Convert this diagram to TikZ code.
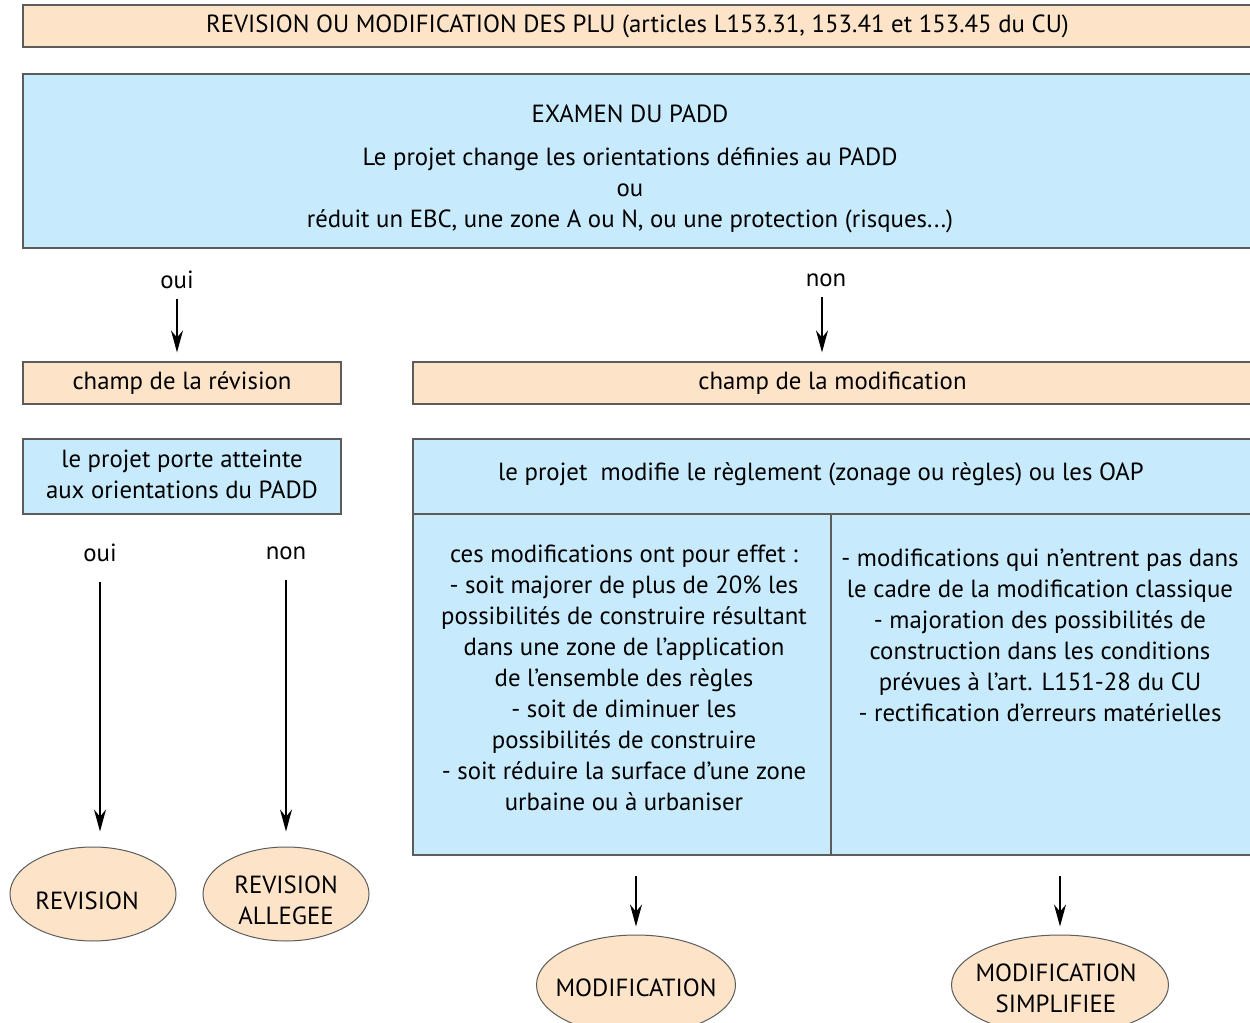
\documentclass[tikz,border=0pt]{standalone}
\usepackage{fontspec}
\setmainfont{PT Sans}
\usetikzlibrary{arrows.meta,shapes.geometric}

\definecolor{peach}{HTML}{FDE3C8}
\definecolor{skyblue}{HTML}{C7EBFD}
\definecolor{edgegray}{HTML}{5C5C5C}

\tikzset{
  peachbox/.style={draw=edgegray, fill=peach, line width=0.6pt, inner sep=0pt},
  bluebox/.style={draw=edgegray, fill=skyblue, line width=0.6pt, inner sep=0pt},
  endnode/.style={ellipse, draw=edgegray, fill=peach, line width=0.5pt, inner sep=0pt},
  txt/.style={align=center, inner sep=1pt},
  flow/.style={-{Stealth[length=11pt,width=6pt]}, line width=0.9pt},
}

\begin{document}
\begin{tikzpicture}[x=0.5pt, y=-0.5pt, font=\fontsize{12.4}{15.5}\selectfont]
    % Fix the size of the page
    \useasboundingbox (0,0) rectangle (1250,1023);

    % Title bar
    \node[peachbox, minimum width=614.5pt, minimum height=21pt] (title) at (637.5,26)
        {REVISION OU MODIFICATION DES PLU (articles L153.31, 153.41 et 153.45 du CU)};

    % Examen du PADD
    \node[bluebox, minimum width=614.5pt, minimum height=87pt] (padd) at (637.5,161) {};
    \node[txt] (paddtxt) at (630,169) {EXAMEN DU PADD\\[6pt]
        Le projet change les orientations définies au PADD\\
        ou\\
        réduit un EBC, une zone A ou N, ou une protection (risques...)};

    % First answer
    \node[txt] (oui1) at (177,280) {oui};
    \node[txt] (non1) at (826,280) {non};

    % Champ de la revision / modification
    \node[peachbox, minimum width=159pt, minimum height=21pt] (champrev) at (182,383) {champ de la révision};
    \node[peachbox, minimum width=419.5pt, minimum height=21pt] (champmod) at (832.5,383) {champ de la modification};

    \draw[flow, shorten <=4pt, shorten >=4.5pt] (oui1.south) -- (oui1.south |- champrev.north);
    \draw[flow, shorten <=4pt, shorten >=4.5pt] ([xshift=-2pt]non1.south) -- ([xshift=-2pt]non1.south |- champmod.north);

    % Left column
    \node[bluebox, minimum width=159pt, minimum height=37.5pt] (porte) at (182,476.5) {};
    \node[txt] (portetxt) at (182,474) {le projet porte atteinte\\aux orientations du PADD};
    \node[txt] (oui2) at (100,553) {oui};
    \node[txt] (non2) at (286,553) {non};

    \node[endnode, minimum width=83pt, minimum height=47pt] (rev) at (93,894) {};
    \node[txt] (revtxt) at (87,901) {REVISION};
    \node[endnode, minimum width=83pt, minimum height=47pt] (revall) at (286,894) {};
    \node[txt] (revalltxt) at (286,900) {REVISION\\ALLEGEE};

    \draw[flow, shorten <=9pt, shorten >=7.5pt] (oui2.south) -- (oui2.south |- rev.north);
    \draw[flow, shorten <=9pt, shorten >=7.5pt] (non2.south) -- (revall.north);

    % Right column
    \node[bluebox, minimum width=419.5pt, minimum height=37.5pt] (modreg) at (832.5,476.5) {};
    \node[txt] (regtxt) at (821,474) {le projet~ modifie le règlement (zonage ou règles) ou les OAP};
    \node[bluebox, minimum width=209pt, minimum height=170.5pt] (cellA) at (622,684.5) {};
    \node[bluebox, minimum width=210.5pt, minimum height=170.5pt] (cellB) at (1041.5,684.5) {};

    \node[txt] (cellAtxt) at (624,678) {ces modifications ont pour effet~:\\
        - soit majorer de plus de 20\% les\\
        possibilités de construire résultant\\
        dans une zone de l’application\\
        de l’ensemble des règles\\
        - soit de diminuer les\\
        possibilités de construire\\
        - soit réduire la surface d’une zone\\
        urbaine ou à urbaniser};
    \node[txt] (cellBtxt) at (1040,635) {- modifications qui n’entrent pas dans\\
        le cadre de la modification classique\\
        - majoration des possibilités de\\
        construction dans les conditions\\
        prévues à l’art. L151-28 du CU\\
        - rectification d’erreurs matérielles};

    \node[endnode, minimum width=99.5pt, minimum height=50pt] (modif) at (636,985) {};
    \node[txt] (modiftxt) at (636,988) {MODIFICATION};
    \node[endnode, minimum width=108.5pt, minimum height=50pt] (simp) at (1060,985) {};
    \node[txt] (simptxt) at (1056,988) {MODIFICATION\\SIMPLIFIEE};

    \coordinate (m1) at (modif.north |- cellA.south);
    \coordinate (m2) at (simp.north |- cellB.south);
    \draw[flow, shorten <=10pt, shorten >=4pt] (m1) -- (modif.north);
    \draw[flow, shorten <=10pt, shorten >=4pt] (m2) -- (simp.north);
\end{tikzpicture}
\end{document}
